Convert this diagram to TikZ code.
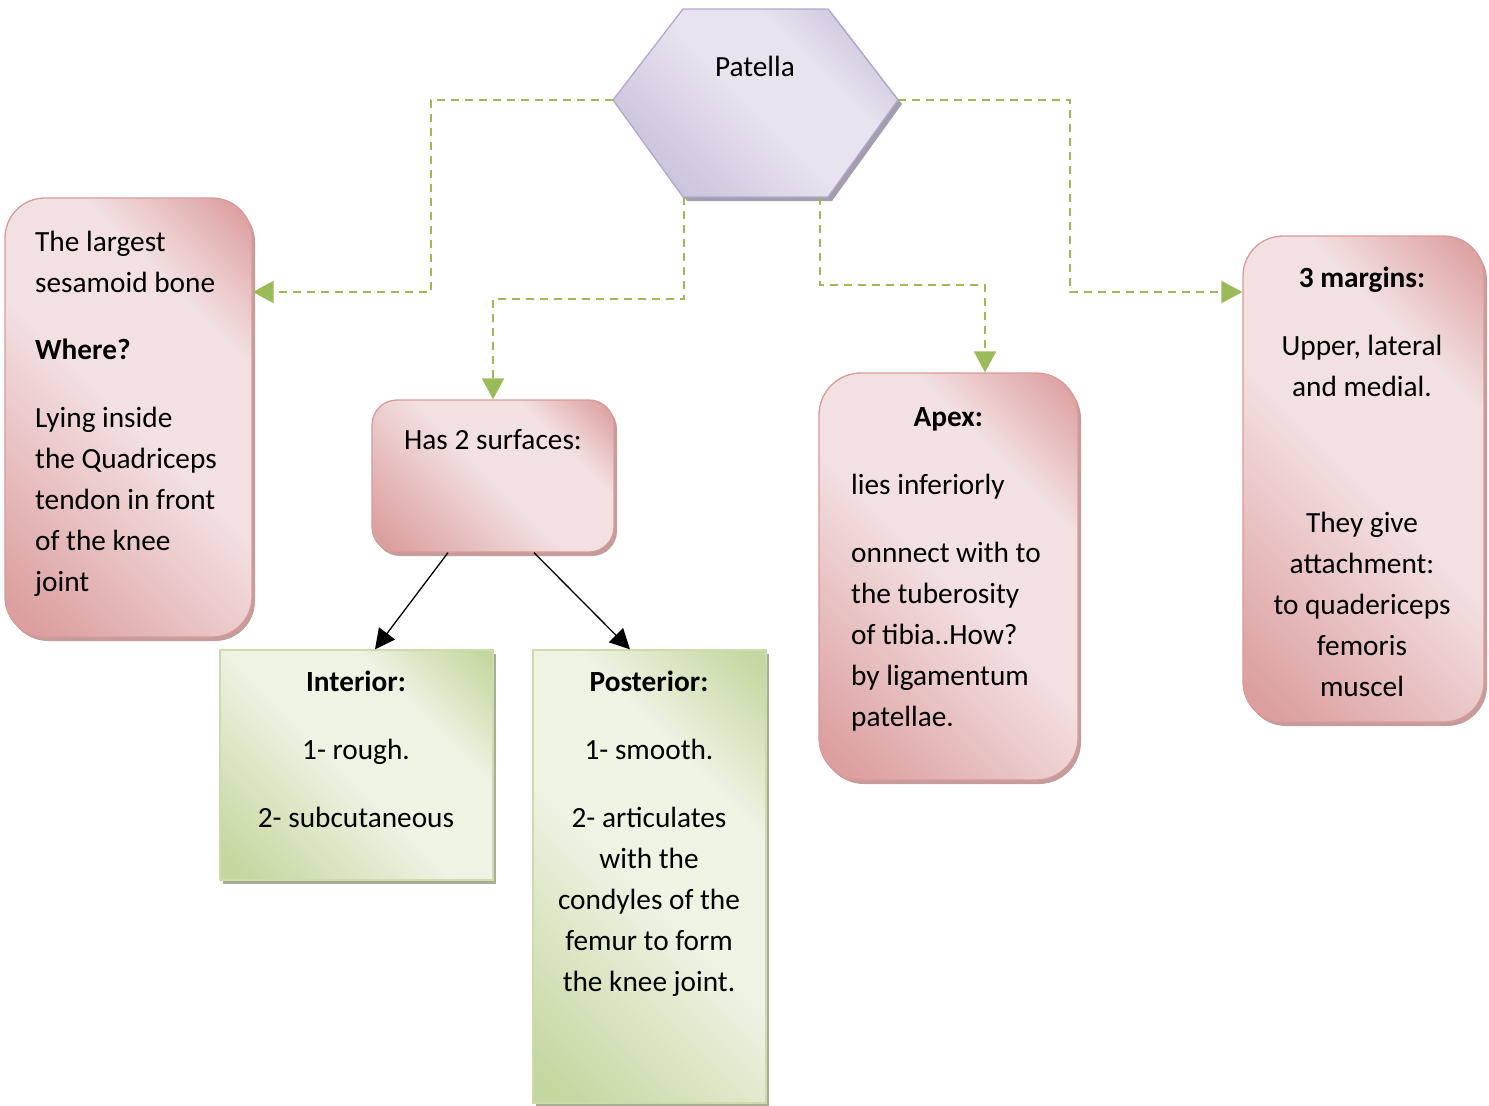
\documentclass[tikz,border=0pt]{standalone}
\usepackage{fontspec}
\setmainfont{Carlito}
\usetikzlibrary{arrows.meta,shadows}

\definecolor{pinkdark}{HTML}{DC9E9E}
\definecolor{pinklight}{HTML}{F3E1E2}
\definecolor{pinkline}{HTML}{DA9A98}
\definecolor{pinkshadow}{HTML}{C49C9C}
\definecolor{greendark}{HTML}{C4D79E}
\definecolor{greenlight}{HTML}{EEF3E4}
\definecolor{greenline}{HTML}{CCDCAC}
\definecolor{greenshadow}{HTML}{A8AE96}
\definecolor{lavdark}{HTML}{C6BCD9}
\definecolor{lavlight}{HTML}{E8E4EF}
\definecolor{lavline}{HTML}{B5A6CF}
\definecolor{lavshadow}{HTML}{A39DAD}
\definecolor{linkgreen}{HTML}{9BBB59}

% diagonal band shadings: dark corners, light middle
\pgfdeclarehorizontalshading{pinkband}{100bp}{color(0bp)=(pinkdark); color(18bp)=(pinkdark); color(50bp)=(pinklight); color(68bp)=(pinklight); color(84bp)=(pinkdark); color(100bp)=(pinkdark)}
\pgfdeclarehorizontalshading{greenband}{100bp}{color(0bp)=(greendark); color(18bp)=(greendark); color(48bp)=(greenlight); color(66bp)=(greenlight); color(84bp)=(greendark); color(100bp)=(greendark)}
\pgfdeclarehorizontalshading{lavband}{100bp}{color(0bp)=(lavdark); color(20bp)=(lavdark); color(50bp)=(lavlight); color(64bp)=(lavlight); color(82bp)=(lavdark); color(100bp)=(lavdark)}

\newcommand\diagfont{\fontsize{29.3}{41}\selectfont}

\begin{document}
\begin{tikzpicture}[x=1pt,y=-1pt,
  pinkbox/.style={draw=pinkline, line width=1.3pt, shade, shading=pinkband,
    shading angle=45, inner sep=0pt,
    drop shadow={shadow xshift=3pt, shadow yshift=-4pt, fill=pinkshadow, opacity=1}},
  greenbox/.style={draw=greenline, line width=1.3pt, shade, shading=greenband,
    shading angle=45, inner sep=0pt,
    drop shadow={shadow xshift=3pt, shadow yshift=-4pt, fill=greenshadow, opacity=1}},
  txt/.style={inner sep=0pt, font=\diagfont, text=black},
  link/.style={draw=linkgreen, line width=2.3pt, dash pattern=on 8pt off 6pt,
    -{Triangle[length=21pt,width=22pt,fill=linkgreen,sep=0pt]}},
  branch/.style={draw=black, line width=1.3pt,
    -{Triangle[length=20pt,width=20pt]}}
]
\useasboundingbox (0,0) rectangle (1489,1106);

% hexagon "Patella"
\coordinate (hexW) at (613,100);
\coordinate (hexE) at (898,100);
\coordinate (hexSL) at (684,197);
\coordinate (hexSR) at (820,197);
\draw[draw=lavline, line width=1.3pt, shade, shading=lavband, shading angle=45,
  drop shadow={shadow xshift=4pt, shadow yshift=-4pt, fill=lavshadow, opacity=1}]
  (hexW) -- (683,9) -- (828,9) -- (hexE) -- (828,197) -- (683,197) -- cycle;
\node[txt, anchor=base] (patella) at (755,76.5) {Patella};

% boxes
\node[pinkbox, rounded corners=40pt, minimum width=247pt, minimum height=439pt] (b1) at (128.5,417.5) {};
\node[pinkbox, rounded corners=25pt, minimum width=242pt, minimum height=152pt] (b2) at (493,476) {};
\node[pinkbox, rounded corners=42pt, minimum width=259pt, minimum height=407pt] (b3) at (948.5,576.5) {};
\node[pinkbox, rounded corners=40pt, minimum width=241pt, minimum height=486pt] (b4) at (1363.5,479) {};
\node[greenbox, minimum width=273pt, minimum height=230pt] (g1) at (356.5,765) {};
\node[greenbox, minimum width=233pt, minimum height=453pt] (g2) at (649.5,876.5) {};

% box texts
\node[txt, anchor=north west, align=left] (t1) at (35,222.3)
  {\strut The largest\\sesamoid bone\\[26pt]\textbf{Where?}\\[27pt]Lying inside\\the Quadriceps\\tendon in front\\of the knee\\joint};
\node[txt, anchor=north, align=center] (t2) at (493,420.3) {\strut Has 2 surfaces:};
\node[txt, anchor=north west, align=left] (t3) at (851,397.3)
  {\strut\makebox[194pt][c]{\textbf{Apex:}}\\[27pt]lies inferiorly\\[27pt]onnnect with to\\the tuberosity\\of tibia..How?\\by ligamentum\\patellae.};
\node[txt, anchor=north, align=center] (t4) at (1362,258.3)
  {\strut\textbf{3 margins:}\\[27pt]Upper, lateral\\and medial.\\[95pt]They give\\attachment:\\to quadericeps\\femoris\\muscel};
\node[txt, anchor=north, align=center] (t5) at (356,662.3)
  {\strut\textbf{Interior:}\\[27pt]1- rough.\\[27pt]2- subcutaneous};
\node[txt, anchor=north, align=center] (t6) at (649,662.3)
  {\strut\textbf{Posterior:}\\[27pt]1- smooth.\\[27pt]2- articulates\\with the\\condyles of the\\femur to form\\the knee joint.};

% dashed elbow connectors from the hexagon
\draw[link] (hexW) -- ++(-182,0) |- ([yshift=125.5pt]b1.east);
\draw[link] (hexE) -- ++(172,0) |- ([yshift=187pt]b4.west);
\draw[link] (hexSL) -- ++(0,102) -| (b2.north);
\draw[link] (hexSR) -- ++(0,88) -| ([xshift=36.5pt]b3.north);

% solid branches to the two surfaces
\draw[branch] ([xshift=-45pt]b2.south) -- ([xshift=18.5pt]g1.north);
\draw[branch] ([xshift=41pt]b2.south) -- ([xshift=-19.5pt]g2.north);
\end{tikzpicture}
\end{document}
